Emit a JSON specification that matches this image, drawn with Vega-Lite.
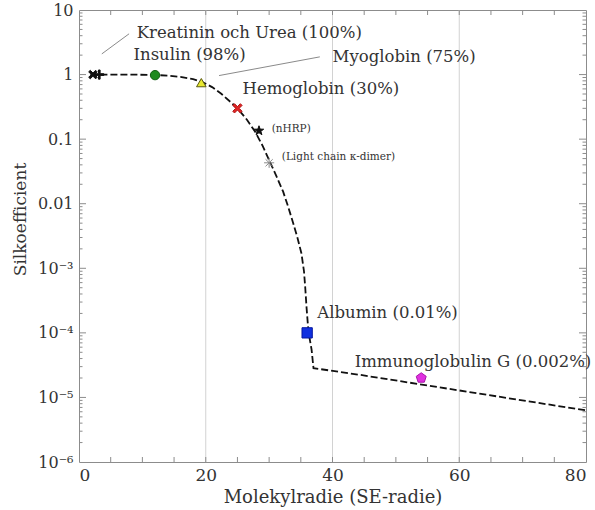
{
  "$schema": "https://vega.github.io/schema/vega-lite/v6.json",
  "width": 507,
  "height": 452,
  "autosize": "none",
  "padding": {"left": 79, "top": 10, "right": 9, "bottom": 48},
  "background": "white",
  "config": {
    "font": "DejaVu Serif",
    "view": {"stroke": "#8c8c8c", "strokeWidth": 1},
    "axis": {
      "domain": false,
      "grid": false,
      "ticks": false,
      "labelFont": "DejaVu Serif",
      "titleFont": "DejaVu Serif",
      "labelColor": "#333333",
      "titleColor": "#333333",
      "titleFontWeight": "normal"
    }
  },
  "resolve": {"axis": {"x": "independent", "y": "independent"}},
  "datasets": {
    "xticks": [
      {"v": 5}, {"v": 10}, {"v": 15}, {"v": 20}, {"v": 25}, {"v": 30}, {"v": 35}, {"v": 40},
      {"v": 45}, {"v": 50}, {"v": 55}, {"v": 60}, {"v": 65}, {"v": 70}, {"v": 75}
    ],
    "ymajor": [
      {"v": 0.00001}, {"v": 0.0001}, {"v": 0.001}, {"v": 0.01}, {"v": 0.1}, {"v": 1}
    ],
    "yminor": [
      {"v": 0.000002}, {"v": 0.000003}, {"v": 0.000004}, {"v": 0.000005}, {"v": 0.000006}, {"v": 0.000007}, {"v": 0.000008}, {"v": 0.000009},
      {"v": 0.00002}, {"v": 0.00003}, {"v": 0.00004}, {"v": 0.00005}, {"v": 0.00006}, {"v": 0.00007}, {"v": 0.00008}, {"v": 0.00009},
      {"v": 0.0002}, {"v": 0.0003}, {"v": 0.0004}, {"v": 0.0005}, {"v": 0.0006}, {"v": 0.0007}, {"v": 0.0008}, {"v": 0.0009},
      {"v": 0.002}, {"v": 0.003}, {"v": 0.004}, {"v": 0.005}, {"v": 0.006}, {"v": 0.007}, {"v": 0.008}, {"v": 0.009},
      {"v": 0.02}, {"v": 0.03}, {"v": 0.04}, {"v": 0.05}, {"v": 0.06}, {"v": 0.07}, {"v": 0.08}, {"v": 0.09},
      {"v": 0.2}, {"v": 0.3}, {"v": 0.4}, {"v": 0.5}, {"v": 0.6}, {"v": 0.7}, {"v": 0.8}, {"v": 0.9},
      {"v": 2}, {"v": 3}, {"v": 4}, {"v": 5}, {"v": 6}, {"v": 7}, {"v": 8}, {"v": 9}
    ]
  },
  "layer": [
    {
      "data": {"values": [{"v": 20}, {"v": 40}, {"v": 60}]},
      "mark": {"type": "rule", "color": "#d2d2d2", "strokeWidth": 1},
      "encoding": {
        "x": {"field": "v", "type": "quantitative", "scale": {"domain": [0, 80], "nice": false}, "axis": null}
      }
    },
    {
      "data": {"name": "xticks"},
      "mark": {"type": "tick", "orient": "vertical", "color": "#8c8c8c", "size": 5, "thickness": 1, "yOffset": -2.5, "opacity": 1},
      "encoding": {
        "x": {"field": "v", "type": "quantitative", "scale": {"domain": [0, 80], "nice": false}, "axis": null},
        "y": {"datum": 0.000001, "type": "quantitative", "scale": {"type": "log", "domain": [0.000001, 10], "nice": false}, "axis": null}
      }
    },
    {
      "data": {"name": "xticks"},
      "mark": {"type": "tick", "orient": "vertical", "color": "#8c8c8c", "size": 5, "thickness": 1, "yOffset": 2.5, "opacity": 1},
      "encoding": {
        "x": {"field": "v", "type": "quantitative", "scale": {"domain": [0, 80], "nice": false}, "axis": null},
        "y": {"datum": 10, "type": "quantitative", "scale": {"type": "log", "domain": [0.000001, 10], "nice": false}, "axis": null}
      }
    },
    {
      "data": {"name": "ymajor"},
      "mark": {"type": "tick", "orient": "horizontal", "color": "#8c8c8c", "size": 7, "thickness": 1, "xOffset": 3.5, "opacity": 1},
      "encoding": {
        "y": {"field": "v", "type": "quantitative", "scale": {"type": "log", "domain": [0.000001, 10], "nice": false}, "axis": null},
        "x": {"datum": 0, "type": "quantitative", "scale": {"domain": [0, 80], "nice": false}, "axis": null}
      }
    },
    {
      "data": {"name": "ymajor"},
      "mark": {"type": "tick", "orient": "horizontal", "color": "#8c8c8c", "size": 7, "thickness": 1, "xOffset": -3.5, "opacity": 1},
      "encoding": {
        "y": {"field": "v", "type": "quantitative", "scale": {"type": "log", "domain": [0.000001, 10], "nice": false}, "axis": null},
        "x": {"datum": 80, "type": "quantitative", "scale": {"domain": [0, 80], "nice": false}, "axis": null}
      }
    },
    {
      "data": {"name": "yminor"},
      "mark": {"type": "tick", "orient": "horizontal", "color": "#8c8c8c", "size": 3.5, "thickness": 1, "xOffset": 1.75, "opacity": 1},
      "encoding": {
        "y": {"field": "v", "type": "quantitative", "scale": {"type": "log", "domain": [0.000001, 10], "nice": false}, "axis": null},
        "x": {"datum": 0, "type": "quantitative", "scale": {"domain": [0, 80], "nice": false}, "axis": null}
      }
    },
    {
      "data": {"name": "yminor"},
      "mark": {"type": "tick", "orient": "horizontal", "color": "#8c8c8c", "size": 3.5, "thickness": 1, "xOffset": -1.75, "opacity": 1},
      "encoding": {
        "y": {"field": "v", "type": "quantitative", "scale": {"type": "log", "domain": [0.000001, 10], "nice": false}, "axis": null},
        "x": {"datum": 80, "type": "quantitative", "scale": {"domain": [0, 80], "nice": false}, "axis": null}
      }
    },
    {
      "data": {
        "values": [
          {"r": 1.8, "s": 1.0},
          {"r": 4, "s": 1.0},
          {"r": 8, "s": 1.0},
          {"r": 12, "s": 0.985},
          {"r": 14, "s": 0.965},
          {"r": 16, "s": 0.92},
          {"r": 18, "s": 0.85},
          {"r": 19.3, "s": 0.78},
          {"r": 21, "s": 0.64},
          {"r": 22.5, "s": 0.5},
          {"r": 24, "s": 0.37},
          {"r": 25, "s": 0.3},
          {"r": 26.5, "s": 0.2},
          {"r": 27.8, "s": 0.13},
          {"r": 29, "s": 0.078},
          {"r": 30.1, "s": 0.045},
          {"r": 31.2, "s": 0.026},
          {"r": 32.2, "s": 0.0155},
          {"r": 33, "s": 0.009},
          {"r": 33.8, "s": 0.005},
          {"r": 34.5, "s": 0.0029},
          {"r": 35.1, "s": 0.0017},
          {"r": 35.5, "s": 0.0009},
          {"r": 35.7, "s": 0.0005},
          {"r": 35.9, "s": 0.00025},
          {"r": 36.2, "s": 0.000105},
          {"r": 36.7, "s": 0.000055},
          {"r": 37.0, "s": 0.0000284},
          {"r": 44.3, "s": 0.0000224},
          {"r": 80, "s": 0.0000063}
        ]
      },
      "mark": {"type": "line", "color": "#111111", "strokeWidth": 1.8, "strokeDash": [7, 3]},
      "encoding": {
        "x": {"field": "r", "type": "quantitative", "scale": {"domain": [0, 80], "nice": false}, "axis": null},
        "y": {"field": "s", "type": "quantitative", "scale": {"type": "log", "domain": [0.000001, 10], "nice": false}, "axis": null}
      }
    },
    {
      "data": {
        "values": [
          {"r1": 3.6, "s1": 2.09, "r2": 7.9, "s2": 4.28},
          {"r1": 22.1, "s1": 0.965, "r2": 38.0, "s2": 1.88}
        ]
      },
      "mark": {"type": "rule", "color": "#8a8a8a", "strokeWidth": 1},
      "encoding": {
        "x": {"field": "r1", "type": "quantitative", "scale": {"domain": [0, 80], "nice": false}, "axis": null},
        "x2": {"field": "r2"},
        "y": {"field": "s1", "type": "quantitative", "scale": {"type": "log", "domain": [0.000001, 10], "nice": false}, "axis": null},
        "y2": {"field": "s2"}
      }
    },
    {
      "data": {
        "values": [
          {"name": "Kreatinin", "r": 2.2, "s": 1.0},
          {"name": "Urea", "r": 3.2, "s": 1.0},
          {"name": "Insulin", "r": 12.0, "s": 0.98},
          {"name": "Myoglobin", "r": 19.3, "s": 0.75},
          {"name": "Hemoglobin", "r": 25.0, "s": 0.3},
          {"name": "nHRP", "r": 28.4, "s": 0.135},
          {"name": "Light chain κ-dimer", "r": 30.0, "s": 0.043},
          {"name": "Albumin", "r": 36.0, "s": 0.0001},
          {"name": "Immunoglobulin G", "r": 54.0, "s": 0.00002}
        ]
      },
      "mark": {"type": "point", "strokeWidth": 1, "opacity": 1},
      "encoding": {
        "x": {
          "field": "r", "type": "quantitative",
          "scale": {"domain": [0, 80], "nice": false},
          "axis": {
            "orient": "bottom", "values": [0, 20, 40, 60, 80],
            "labelFontSize": 17, "labelPadding": 5,
            "title": "Molekylradie (SE-radie)", "titleFontSize": 18, "titlePadding": 5
          }
        },
        "y": {
          "field": "s", "type": "quantitative",
          "scale": {"type": "log", "domain": [0.000001, 10], "nice": false},
          "axis": {
            "orient": "left",
            "values": [0.000001, 0.00001, 0.0001, 0.001, 0.01, 0.1, 1, 10],
            "labelFontSize": 16, "labelPadding": 6,
            "labelExpr": "round(log(datum.value) / LN10) == 1 ? '10' : round(log(datum.value) / LN10) == 0 ? '1' : round(log(datum.value) / LN10) == -1 ? '0.1' : round(log(datum.value) / LN10) == -2 ? '0.01' : round(log(datum.value) / LN10) == -3 ? '10⁻³' : round(log(datum.value) / LN10) == -4 ? '10⁻⁴' : round(log(datum.value) / LN10) == -5 ? '10⁻⁵' : '10⁻⁶'",
            "title": "Silkoefficient", "titleFontSize": 17, "titlePadding": 8, "titleY": 209
          }
        },
        "size": {
          "field": "name", "type": "nominal", "legend": null,
          "scale": {
            "domain": ["Kreatinin", "Urea", "Insulin", "Myoglobin", "Hemoglobin", "nHRP", "Light chain κ-dimer", "Albumin", "Immunoglobulin G"],
            "range": [80, 110, 130, 110, 130, 140, 130, 121, 150]
          }
        },
        "shape": {
          "field": "name", "type": "nominal", "legend": null,
          "scale": {
            "domain": ["Kreatinin", "Urea", "Insulin", "Myoglobin", "Hemoglobin", "nHRP", "Light chain κ-dimer", "Albumin", "Immunoglobulin G"],
            "range": [
              "M-0.601,-0.955L0,-0.354L0.601,-0.955L0.955,-0.601L0.354,0L0.955,0.601L0.601,0.955L0,0.354L-0.601,0.955L-0.955,0.601L-0.354,0L-0.955,-0.601Z",
              "M-1,-0.18L-0.18,-0.18L-0.18,-1L0.18,-1L0.18,-0.18L1,-0.18L1,0.18L0.18,0.18L0.18,1L-0.18,1L-0.18,0.18L-1,0.18Z",
              "circle",
              "triangle-up",
              "M-0.601,-0.955L0,-0.354L0.601,-0.955L0.955,-0.601L0.354,0L0.955,0.601L0.601,0.955L0,0.354L-0.601,0.955L-0.955,0.601L-0.354,0L-0.955,-0.601Z",
              "M0,-1L0.235,-0.324L0.951,-0.309L0.38,0.124L0.588,0.809L0,0.4L-0.588,0.809L-0.38,0.124L-0.951,-0.309L-0.235,-0.324Z",
              "M-1,0L1,0M0,-1L0,1M-0.707,-0.707L0.707,0.707M-0.707,0.707L0.707,-0.707",
              "square",
              "M0,-1L0.951,-0.309L0.588,0.809L-0.588,0.809L-0.951,-0.309Z"
            ]
          }
        },
        "fill": {
          "field": "name", "type": "nominal", "legend": null,
          "scale": {
            "domain": ["Kreatinin", "Urea", "Insulin", "Myoglobin", "Hemoglobin", "nHRP", "Light chain κ-dimer", "Albumin", "Immunoglobulin G"],
            "range": ["#111111", "#111111", "#1f8a1f", "#e8e830", "#e02626", "#111111", "transparent", "#1030e0", "#e030e0"]
          }
        },
        "stroke": {
          "field": "name", "type": "nominal", "legend": null,
          "scale": {
            "domain": ["Kreatinin", "Urea", "Insulin", "Myoglobin", "Hemoglobin", "nHRP", "Light chain κ-dimer", "Albumin", "Immunoglobulin G"],
            "range": ["#111111", "#111111", "#146014", "#5a5a10", "#b01414", "#111111", "#8a8a8a", "#0818a0", "#a818a8"]
          }
        }
      }
    },
    {
      "data": {
        "values": [
          {"label": "Kreatinin och Urea (100%)", "r": 9.1, "s": 4.43},
          {"label": "Insulin (98%)", "r": 8.6, "s": 2.04},
          {"label": "Myoglobin (75%)", "r": 40.0, "s": 1.88},
          {"label": "Hemoglobin (30%)", "r": 25.8, "s": 0.6},
          {"label": "Albumin (0.01%)", "r": 37.6, "s": 0.000202},
          {"label": "Immunoglobulin G (0.002%)", "r": 43.5, "s": 0.000035}
        ]
      },
      "mark": {"type": "text", "align": "left", "baseline": "middle", "font": "DejaVu Serif", "fontSize": 16.5, "color": "#333333"},
      "encoding": {
        "x": {"field": "r", "type": "quantitative", "scale": {"domain": [0, 80], "nice": false}, "axis": null},
        "y": {"field": "s", "type": "quantitative", "scale": {"type": "log", "domain": [0.000001, 10], "nice": false}, "axis": null},
        "text": {"field": "label"}
      }
    },
    {
      "data": {
        "values": [
          {"label": "(nHRP)", "r": 30.4, "s": 0.144},
          {"label": "(Light chain κ-dimer)", "r": 32.0, "s": 0.052}
        ]
      },
      "mark": {"type": "text", "align": "left", "baseline": "middle", "font": "DejaVu Serif", "fontSize": 10.5, "color": "#333333"},
      "encoding": {
        "x": {"field": "r", "type": "quantitative", "scale": {"domain": [0, 80], "nice": false}, "axis": null},
        "y": {"field": "s", "type": "quantitative", "scale": {"type": "log", "domain": [0.000001, 10], "nice": false}, "axis": null},
        "text": {"field": "label"}
      }
    }
  ]
}
